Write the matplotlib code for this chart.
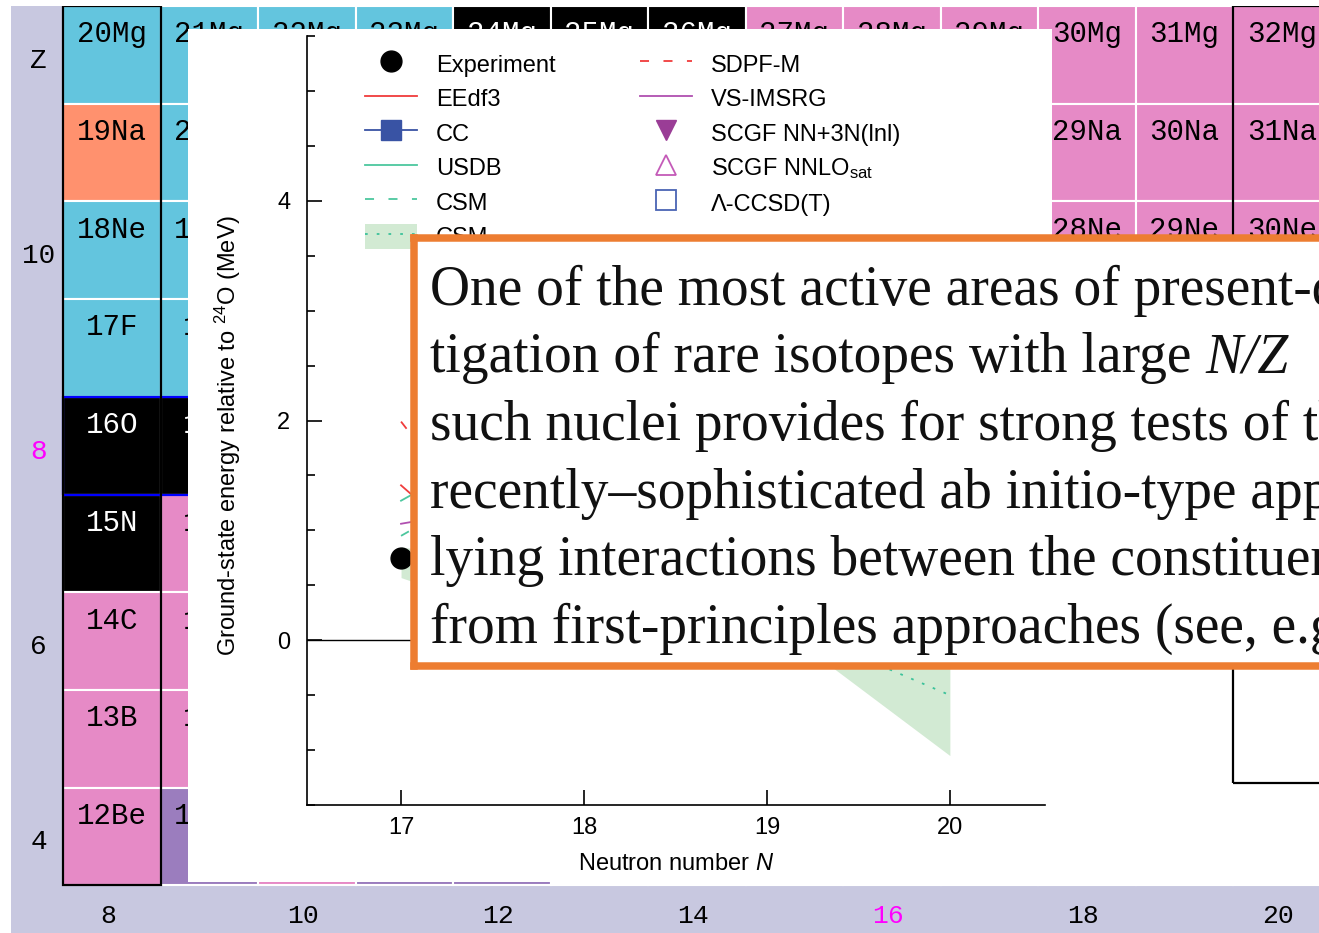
import numpy as np
import matplotlib.pyplot as plt
from matplotlib.patches import Rectangle

plt.rcParams['font.family'] = ['Liberation Sans', 'DejaVu Sans']
plt.rcParams['mathtext.fontset'] = 'custom'
plt.rcParams['mathtext.rm'] = 'Liberation Sans'
plt.rcParams['mathtext.it'] = 'Liberation Sans:italic'

W, H = 1319, 933

# ---- nuclide chart (background) ----
neutrons = list(range(8, 21))
protons = [12, 11, 10, 9, 8, 7, 6, 5, 4]
symbols = ['Mg', 'Na', 'Ne', 'F', 'O', 'N', 'C', 'B', 'Be']
# c: beta+, k: stable, p: beta-, s: p-emitter, u: n-emitter, .: none
decay_rows = ['cccckkkpppppp',
              'sccckpppppppp',
              'cckkkpppppppp',
              'cckppppppppup',
              'kkkppppppuu.u',
              'kpppppppp....',
              'pppppppup....',
              'pppupup......',
              'pupuu........']
decay_colors = {'c': '#63c5de', 'k': 'black', 'p': '#e68ac6',
                's': '#ff916e', 'u': '#9b7dbe', '.': 'white'}
z_ticks = [12, 10, 8, 6, 4]
z_ticklabels = ['Z', '10', '8', '6', '4']
n_ticks = [8, 10, 12, 14, 16, 18, 20]

# ---- ground-state energies relative to 24O (MeV) ----
N_exp = [17, 18, 20]
E_exp = [0.75, 0.02, 0.46]
N_th = [17, 18, 19, 20]
E_sdpfm = [1.99, -0.15, 0.6, 0.35]
E_eedf3 = [1.41, -0.05, 0.95, 0.7]
E_usdb = [1.27, 2.2, 1.6, 1.3]
E_csm = [0.95, 1.9, 1.0, 0.4]
E_imsrg = [1.06, 1.35, 1.2, 1.0]
E_csm_band_mid = [0.70, 0.30, 0.21, -0.50]
E_csm_band_lo = [0.57, 0.00, 0.20, -1.05]
E_csm_band_hi = [0.85, 0.60, 0.90, 0.05]
N_cc = [18, 20]
E_cc = [0.35, 0.9]
N_scgf = [18, 20]
E_scgf_3n = [0.6, 1.2]
E_scgf_sat = [0.9, 1.6]
N_lccsd = [20]
E_lccsd = [1.5]

text_lines = ["One of the most active areas of present-day",
              "tigation of rare isotopes with large ",
              "such nuclei provides for strong tests of the",
              "recently\u2013sophisticated ab initio-type approaches",
              "lying interactions between the constituents",
              "from first-principles approaches (see, e.g."]

fig = plt.figure(figsize=(W / 100, H / 100), dpi=100)

# background chart axes: N/Z cell coordinates
cell_w, cell_h = 97.5, 97.7
x0_px, y0_px = 63, 6
bg = fig.add_axes([11 / W, 0, (W - 11) / W, (H - 6) / H], zorder=0)
bg.set_facecolor('#c8c8e0')
bg.set_xlim(7.5 + (11 - x0_px) / cell_w, 7.5 + (W - x0_px) / cell_w)
bg.set_ylim(12.5 - (H - y0_px) / cell_h, 12.5)
bg.set_xticks([])
bg.set_yticks([])
for s in bg.spines.values():
    s.set_visible(False)

for z, sym, row in zip(protons, symbols, decay_rows):
    for n, code in zip(neutrons, row):
        bg.add_patch(Rectangle((n - 0.5, z - 0.5), 1, 1, facecolor=decay_colors[code],
                               edgecolor='white', lw=1.5))
        # only cells not fully covered by the overlays get a label
        shown = n <= 9 or z == 12 or (n >= 18 and z >= 10)
        if code != '.' and shown:
            bg.text(n, z + 0.21, f'{n + z}{sym}', ha='center', va='center',
                    family='Liberation Mono', fontsize=21,
                    color='white' if code == 'k' else 'black')
bg.add_patch(Rectangle((7.5, 7.5), 13, 1, fill=False, edgecolor='blue', lw=1.6))
bg.add_patch(Rectangle((7.5, 3.5), 1, 9, fill=False, edgecolor='black', lw=1.6))
bg.add_patch(Rectangle((19.5, 4.55), 1, 12.5 - 4.55, fill=False, edgecolor='black', lw=1.6))
for z, lab in zip(z_ticks, z_ticklabels):
    bg.text(7.25, z - 0.06, lab, ha='center', va='center', family='Liberation Mono',
            fontsize=20, color='magenta' if z == 8 else 'black')
for n in n_ticks:
    bg.text(n - 0.04, 3.19, str(n), ha='center', va='center', family='Liberation Mono',
            fontsize=19, color='magenta' if n == 16 else 'black')

# white panel behind the figure
panel = fig.add_axes([188 / W, 1 - 882 / H, (1052 - 188) / W, (882 - 29) / H], zorder=1)
panel.set_facecolor('white')
panel.set_xticks([])
panel.set_yticks([])
for s in panel.spines.values():
    s.set_visible(False)

# ---- energy plot ----
ax = fig.add_axes([307 / W, 1 - 805 / H, 738 / W, 769 / H], zorder=2)
ax.set_facecolor('none')
ax.set_xlim(16.486, 20.52)
ax.set_ylim(-1.5, 5.5)

red, green, purple = '#f03c3c', '#4cc79e', '#b04fb0'
ax.axhline(0, color='black', lw=1)
band = ax.fill_between(N_th, E_csm_band_lo, E_csm_band_hi, color='#d2ead3', lw=0)
l_band, = ax.plot(N_th, E_csm_band_mid, color='#3cc29a', lw=1.3, dashes=(1.5, 5))
l_sdpfm, = ax.plot(N_th, E_sdpfm, color=red, lw=1.3, dashes=(5, 8))
l_eedf3, = ax.plot(N_th, E_eedf3, color=red, lw=1.3)
l_usdb, = ax.plot(N_th, E_usdb, color=green, lw=1.3)
l_csm, = ax.plot(N_th, E_csm, color=green, lw=1.3, dashes=(5, 8))
l_imsrg, = ax.plot(N_th, E_imsrg, color=purple, lw=1.3)
l_cc, = ax.plot(N_cc, E_cc, color='#3953a4', lw=1.3, marker='s', ms=15)
l_s3n, = ax.plot(N_scgf, E_scgf_3n, ls='none', marker='v', color='#9a3d96', ms=15)
l_ssat, = ax.plot(N_scgf, E_scgf_sat, ls='none', marker='^', mfc='none',
                  mec='#c45ab8', mew=1.3, ms=15)
l_lcc, = ax.plot(N_lccsd, E_lccsd, ls='none', marker='s', mfc='none',
                 mec='#4a64b4', mew=1.3, ms=15)
l_exp, = ax.plot(N_exp, E_exp, ls='none', marker='o', color='black', ms=15, zorder=5)

ax.spines['top'].set_visible(False)
ax.spines['right'].set_visible(False)
for s in ('left', 'bottom'):
    ax.spines[s].set_linewidth(1.2)
ax.set_xticks([17, 18, 19, 20])
ax.set_yticks([0, 2, 4])
ax.set_yticks(np.arange(-1.5, 5.51, 0.5), minor=True)
ax.tick_params(axis='both', which='major', direction='in', length=11, width=1.2,
               labelsize=17)
ax.tick_params(axis='y', which='minor', direction='in', length=6, width=1.2)
ax.tick_params(axis='y', which='major', pad=12)
ax.tick_params(axis='x', which='major', pad=9)
ax.set_xlabel('Neutron number $N$', fontsize=17, labelpad=10)
ax.set_ylabel('Ground-state energy relative to $^{24}$O (MeV)', fontsize=17)
ax.yaxis.set_label_coords(-0.087, 0.481)

handles = [l_exp, l_eedf3, l_cc, l_usdb, l_csm, (band, l_band),
           l_sdpfm, l_imsrg, l_s3n, l_ssat, l_lcc]
labels = ['Experiment', 'EEdf3', 'CC', 'USDB', 'CSM', 'CSM',
          'SDPF-M', 'VS-IMSRG', 'SCGF NN+3N(lnl)', 'SCGF NNLO$_{\\rm sat}$',
          '\u039b-CCSD(T)']
ax.legend(handles, labels, ncol=2, frameon=False, fontsize=17, loc='upper left',
          bbox_to_anchor=(365 / W, 1 - 51 / H), bbox_transform=fig.transFigure,
          borderpad=0, borderaxespad=0, handlelength=2.2, handletextpad=0.8,
          handleheight=1.3, labelspacing=0.37, columnspacing=3.6)

# ---- orange quote box ----
tb = fig.add_axes([413.5 / W, 1 - 665.5 / H, (1340 - 413.5) / W, (665.5 - 238) / H], zorder=3)
tb.set_facecolor('white')
tb.set_xticks([])
tb.set_yticks([])
for s in tb.spines.values():
    s.set_color('#ed7d31')
    s.set_linewidth(5.4)

baselines = [305, 372.5, 440, 507.5, 575, 642.5]
for i, (line, yb) in enumerate(zip(text_lines, baselines)):
    t = fig.text(430 / W, 1 - yb / H, line, family='Liberation Serif', fontsize=40,
                 va='baseline', ha='left', color='#111111', zorder=10)
    if i == 1:
        tb.annotate('N/Z', xy=(1, 0), xycoords=t, va='bottom', ha='left',
                    family='Liberation Serif', style='italic', fontsize=40,
                    color='#111111', annotation_clip=False)

fig.savefig('out.png', dpi=100)
